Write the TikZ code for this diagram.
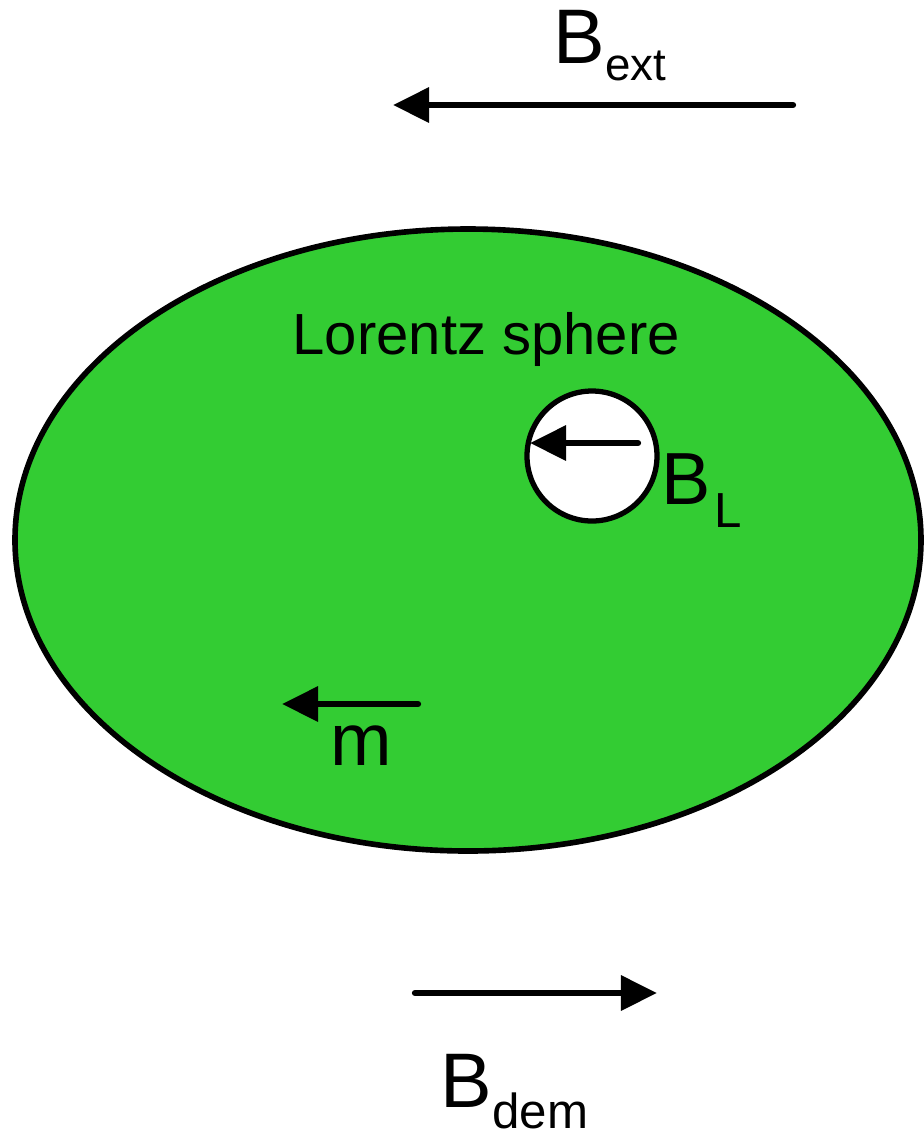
\documentclass[tikz,border=0pt]{standalone}
\usepackage{fontspec}
\setmainfont{Liberation Sans}
\usetikzlibrary{arrows.meta}

\begin{document}
\begin{tikzpicture}[x=0.01cm, y=-0.01cm]
  % Styling
  \tikzset{
    sphere/.style={
      fill=sphereGreen,
      draw=black,
      line width=1.6pt
    },
    hole/.style={
      fill=white,
      draw=black,
      line width=1.5pt
    },
    arrow/.style={
      -{Triangle[length=0.36cm, width=0.34cm]},
      line width=1.8pt,
      line cap=round,
      black
    },
    label/.style={
      inner sep=0pt,
      anchor=base west,
      black
    }
  }
  \definecolor{sphereGreen}{HTML}{33CC33}
  \useasboundingbox (0,0) rectangle (924,1135);

  % ===== Lorentz sphere =====
  \draw[sphere] (468,540) ellipse [x radius=453, y radius=311];
  \node[label, font=\fontsize{16.5}{16.5}\selectfont] (sphereText) at (292,354) {Lorentz sphere};

  % Cavity
  \draw[hole] (592,456) circle [radius=65];

  % ===== External field =====
  \coordinate (extTail) at (793,105);
  \coordinate (extTip) at (393,105);
  \draw[arrow] (extTail) -- (extTip);
  \node[label] (extLabel) at (553,63)
    {\fontsize{22}{22}\selectfont B\raisebox{-0.17cm}{\fontsize{13}{13}\selectfont ext}};

  % ===== Field in cavity =====
  \coordinate (lTail) at (638,443);
  \coordinate (lTip) at (530,443);
  \draw[arrow] (lTail) -- (lTip);
  \node[label] (lLabel) at (661,504)
    {\fontsize{21}{21}\selectfont B\kern0.04cm\raisebox{-0.23cm}{\fontsize{14}{14}\selectfont L}};

  % ===== Magnetisation =====
  \coordinate (mTail) at (418,704);
  \coordinate (mTip) at (282,704);
  \draw[arrow] (mTail) -- (mTip);
  \node[label, font=\fontsize{21}{21}\selectfont] (mLabel) at (330,765) {m};

  % ===== Demagnetising field =====
  \coordinate (demTail) at (415,993);
  \coordinate (demTip) at (657,993);
  \draw[arrow] (demTail) -- (demTip);
  \node[label] (demLabel) at (440,1107)
    {\fontsize{22}{22}\selectfont B\raisebox{-0.21cm}{\fontsize{14}{14}\selectfont dem}};

\end{tikzpicture}
\end{document}
